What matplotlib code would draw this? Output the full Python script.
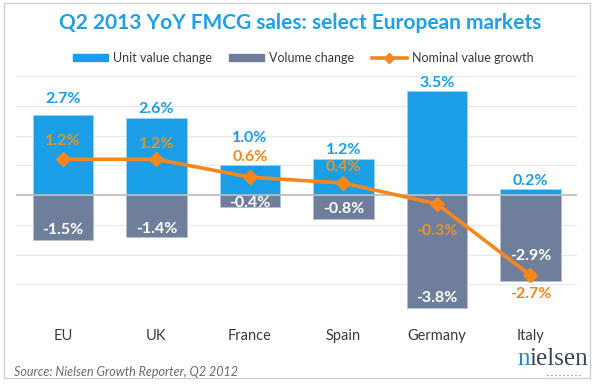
import matplotlib

matplotlib.use("Agg")
import matplotlib.pyplot as plt
from matplotlib.lines import Line2D
from matplotlib.patches import Patch, Rectangle
import numpy as np

plt.rcParams["font.family"] = ["Lato", "DejaVu Sans"]

markets = ["EU", "UK", "France", "Spain", "Germany", "Italy"]
unit_value = [2.7, 2.6, 1.0, 1.2, 3.5, 0.2]
volume = [-1.5, -1.4, -0.4, -0.8, -3.8, -2.9]
nominal = [1.2, 1.2, 0.6, 0.4, -0.3, -2.7]

# label nudges (in % units)
unit_off = [0.54, 0.3, 0.92, 0.3, 0.27, 0.27]
vol_off = [0.34, 0.27, 0.13, 0.34, 0.34, 0.85]
nom_off = [0.61, 0.5, 0.68, 0.54, -0.92, -0.64]

BLUE = "#1a9ee6"
GREY = "#6f7f9b"
ORANGE = "#f7871c"
ORANGE_ON_BAR = "#e0962e"

fig = plt.figure(figsize=(6, 3.86), dpi=100)
ax = fig.add_axes([0.027, 0.1865, 0.935, 0.6166])

x = np.arange(len(markets))
w = 0.65
ax.bar(x, unit_value, w, color=BLUE, edgecolor="#9fd3f2", linewidth=0.6, zorder=2)
ax.bar(x, volume, w, color=GREY, edgecolor="#b5bfcf", linewidth=0.6, zorder=2)
ax.plot(x, nominal, color=ORANGE, lw=2.6, marker="D", ms=7, zorder=4)

ax.set_xlim(-0.5, len(markets) - 0.5)
ax.set_ylim(-4, 4)
ax.set_yticks(np.arange(-4, 5, 1))
ax.yaxis.grid(True, color="#e8e8e8", lw=0.8, zorder=0)
ax.axhline(0, color="#bdbdbd", lw=1.2, zorder=3)
ax.tick_params(left=False, labelleft=False, bottom=False)
ax.set_xticks(x)
ax.set_xticklabels(markets, fontsize=10.5, color="#3a3a3a")
ax.tick_params(axis="x", pad=7)
for s in ax.spines.values():
    s.set_visible(False)

bold = dict(fontsize=11.5, fontweight="bold", ha="center", va="center")
for i in range(len(markets)):
    ax.text(x[i], unit_value[i] + unit_off[i], f"{unit_value[i]:.1f}%", color=BLUE, zorder=5, **bold)
    ax.text(x[i], volume[i] + vol_off[i], f"{volume[i]:.1f}%", color="white", zorder=5, **bold)
    on_bar = markets[i] in ("EU", "UK", "Spain", "Germany")
    ax.text(x[i], nominal[i] + nom_off[i], f"{nominal[i]:.1f}%",
            color=ORANGE_ON_BAR if on_bar else ORANGE, zorder=5, **bold)

fig.text(0.5, 0.94, "Q2 2013 YoY FMCG sales: select European markets",
         ha="center", va="center", fontsize=15, fontweight="bold", color="#1ea0e6")

handles = [
    Patch(color=BLUE, label="Unit value change"),
    Patch(color=GREY, label="Volume change"),
    Line2D([0], [0], color=ORANGE, lw=2.6, marker="D", ms=5, label="Nominal value growth"),
]
fig.legend(handles=handles, loc="center", bbox_to_anchor=(0.505, 0.85), ncol=3,
           frameon=False, fontsize=9, handlelength=2.8, handleheight=0.5,
           columnspacing=1.4, handletextpad=0.4, labelcolor="#3a3a3a")

fig.text(0.023, 0.035, "Source: Nielsen Growth Reporter, Q2 2012", fontsize=9,
         style="italic", color="#6a6a6a", va="center")

# nielsen logo: blue "n", dark "ielsen", dotted underline
rest = fig.text(0.98, 0.07, "ielsen", fontsize=18, family="Liberation Serif",
                color="#3a4560", ha="right", va="center")
fig.canvas.draw()
x0 = rest.get_window_extent().x0 / fig.bbox.width
fig.text(x0, 0.07, "n", fontsize=18, family="Liberation Serif",
         color="#2e7fd1", ha="right", va="center")
fig.text(0.968, 0.026, "· · · · · · · · ·", fontsize=5.5, color="#555555", ha="right", va="center")

fig.add_artist(Rectangle((4 / 600, 1 - 378 / 386), 586 / 600, 375 / 386,
                         transform=fig.transFigure, fill=False, ec="#d0d0d0", lw=1))

fig.savefig("out.png", dpi=100)
